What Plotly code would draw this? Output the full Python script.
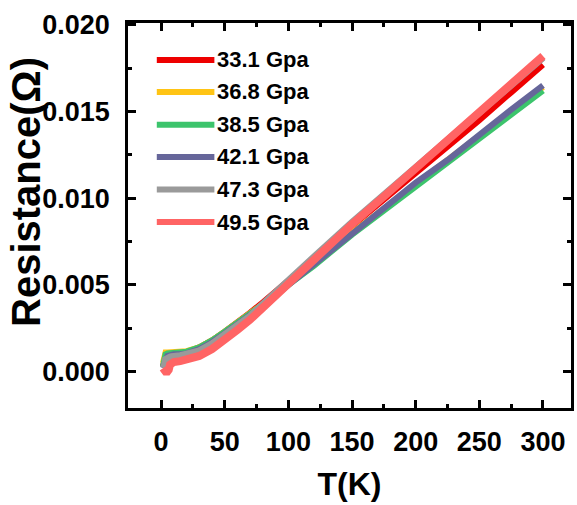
import plotly.graph_objects as go

# Temperature grid (K)
temperature = [1.5, 2.5, 3.5, 5, 6, 7, 8, 10, 15, 20, 30, 40, 50, 60, 70, 80, 90,
               100, 120, 150, 175, 200, 225, 250, 275, 300]

# Resistance (Ohm) at each pressure
r_33_1 = [0.0003, 0.0007, 0.0009, 0.0010, 0.00102, 0.00104, 0.00105, 0.00105, 0.00108, 0.0011,
          0.0014, 0.0018, 0.0023, 0.0028, 0.0034, 0.0040, 0.0046, 0.0052, 0.0065, 0.0084,
          0.0099, 0.0114, 0.0129, 0.0145, 0.0161, 0.0177]
r_36_8 = [0.0005, 0.0010, 0.0011, 0.0011, 0.00111, 0.00112, 0.00112, 0.00113, 0.00115, 0.00118,
          0.0014, 0.0018, 0.0023, 0.0028, 0.0033, 0.0039, 0.0045, 0.0051, 0.0062, 0.0080,
          0.0094, 0.0108, 0.0122, 0.0136, 0.0150, 0.0164]
r_38_5 = [0.0003, 0.0008, 0.0010, 0.00105, 0.00106, 0.00107, 0.00108, 0.0011, 0.00112, 0.00115,
          0.0014, 0.0018, 0.0023, 0.0028, 0.0033, 0.0039, 0.0044, 0.0050, 0.0061, 0.0079,
          0.0093, 0.0106, 0.0120, 0.0134, 0.0148, 0.0162]
r_42_1 = [0.0002, 0.0004, 0.0008, 0.0009, 0.00092, 0.00094, 0.00095, 0.0010, 0.0010, 0.00105,
          0.0013, 0.0017, 0.0022, 0.0027, 0.0033, 0.0038, 0.0044, 0.0050, 0.0062, 0.0080,
          0.0095, 0.0109, 0.0122, 0.0137, 0.0151, 0.0165]
r_47_3 = [0.0002, 0.0003, 0.0007, 0.0008, 0.00082, 0.00084, 0.00085, 0.0009, 0.00092, 0.0010,
          0.0012, 0.0016, 0.0021, 0.0026, 0.0032, 0.0039, 0.0046, 0.0053, 0.0066, 0.0086,
          0.0102, 0.0118, 0.0134, 0.0150, 0.0165, 0.0181]
r_49_5 = [0.0002, 0.0000, 0.0000, 0.0000, 0.0001, 0.0004, 0.0005, 0.00055, 0.0006, 0.00068,
          0.0009, 0.0013, 0.0018, 0.0024, 0.0030, 0.0037, 0.0044, 0.0051, 0.0065, 0.0085,
          0.0101, 0.0117, 0.0134, 0.0150, 0.0166, 0.0182]

labels = ["33.1 Gpa", "36.8 Gpa", "38.5 Gpa", "42.1 Gpa", "47.3 Gpa", "49.5 Gpa"]
series = [r_33_1, r_36_8, r_38_5, r_42_1, r_47_3, r_49_5]
colors = ["#ee0000", "#ffc414", "#3cc46c", "#66669a", "#9a9a9a", "#ff6464"]
widths = [6, 6, 6, 6, 7, 8]

x_ticks = [0, 50, 100, 150, 200, 250, 300]
y_ticks = [0.000, 0.005, 0.010, 0.015, 0.020]

fig = go.Figure()
for name, ys, col, w in zip(labels, series, colors, widths):
    fig.add_trace(go.Scatter(x=temperature, y=ys, mode="lines", name=name,
                             line=dict(color=col, width=w), showlegend=False))

# Hand-drawn legend: long line swatch followed by bold label
legend_rows = [0.904, 0.821, 0.736, 0.652, 0.5675, 0.483]
for name, col, yp in zip(labels, colors, legend_rows):
    fig.add_shape(type="line", xref="paper", yref="paper",
                  x0=0.065, x1=0.195, y0=yp, y1=yp,
                  line=dict(color=col, width=6))
    fig.add_annotation(xref="paper", yref="paper", x=0.197, y=yp,
                       text="<b>%s</b>" % name, showarrow=False,
                       xanchor="left", yanchor="middle",
                       font=dict(size=22, color="black"))

# Vertical axis title
fig.add_annotation(xref="paper", yref="paper", x=-0.229, y=0.56,
                   text="<b>Resistance(Ω)</b>", textangle=-90, showarrow=False,
                   xanchor="center", yanchor="middle",
                   font=dict(size=40, color="black"))

axis_common = dict(
    showline=True, linecolor="black", linewidth=2.5, mirror="ticks",
    ticks="inside", ticklen=8, tickwidth=2.5, tickcolor="black",
    showgrid=False, zeroline=False,
    tickfont=dict(size=27, color="black", family="Liberation Sans, Arial"),
)

fig.update_xaxes(
    range=[-26, 322], tickvals=x_ticks, ticktext=["<b>%d</b>" % v for v in x_ticks],
    minor=dict(ticks="inside", ticklen=4, tickwidth=2.5, tickcolor="black",
               tickvals=[25, 75, 125, 175, 225, 275]),
    ticklabelstandoff=8,
    title=dict(text="<b>T(K)</b>", font=dict(size=32, color="black"), standoff=17),
    **axis_common,
)
fig.update_yaxes(
    range=[-0.0021, 0.0201], tickvals=y_ticks, ticktext=["<b>%.3f</b>" % v for v in y_ticks],
    minor=dict(ticks="inside", ticklen=4, tickwidth=2.5, tickcolor="black",
               tickvals=[0.0025, 0.0075, 0.0125, 0.0175]),
    ticklabelstandoff=10,
    **axis_common,
)

fig.update_layout(
    width=577, height=505,
    margin=dict(l=128, r=3, t=23, b=97),
    paper_bgcolor="white", plot_bgcolor="white",
    font=dict(family="Liberation Sans, Arial", color="black"),
)

fig.write_html("out.html")
